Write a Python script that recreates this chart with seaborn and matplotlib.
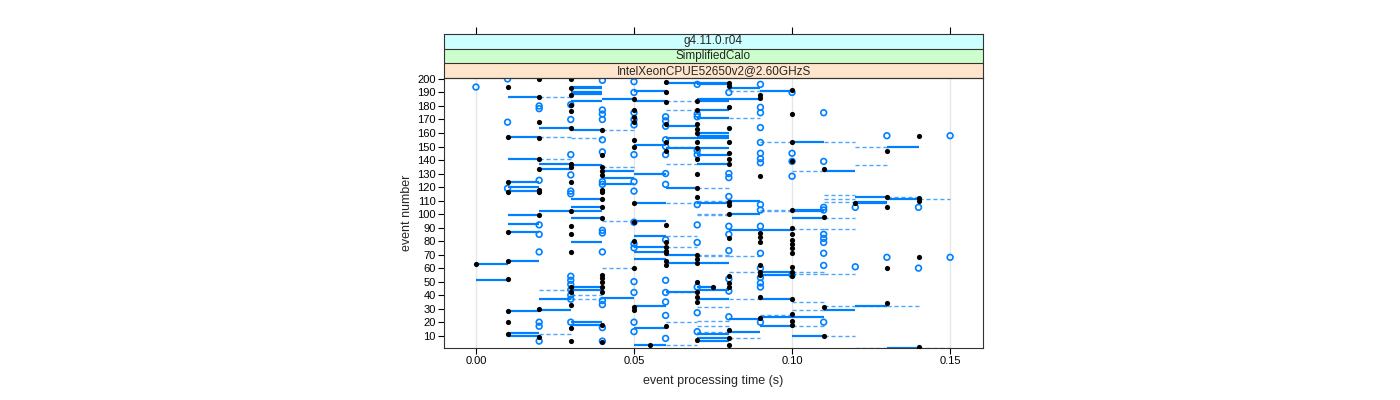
"""
Event processing time per event number, lattice-style panel with strips.
"""

## Import packages
import pandas as pd
import matplotlib
matplotlib.use('Agg')
import matplotlib.pyplot as plt
import seaborn as sns


## Data
# black dots: time column -> event numbers
black_times = [0.00, 0.01, 0.02, 0.03, 0.04, 0.05, 0.055, 0.06, 0.07, 0.075,
               0.08, 0.09, 0.10, 0.11, 0.12, 0.13, 0.14]
black_events = [
    [63],
    [194, 157, 124, 116, 87, 65, 52, 28, 20, 11],
    [200, 187, 168, 156, 141, 133, 118, 116, 99, 30, 9],
    [200, 193, 188, 181, 176, 164, 137, 135, 124, 102, 91, 85, 72, 46, 42, 33, 16, 6],
    [162, 144, 135, 132, 129, 118, 116, 111, 105, 97, 55, 53, 50, 46, 42, 18, 5],
    [185, 177, 172, 168, 155, 150, 108, 94, 80, 60, 31, 29],
    [3],
    [198, 190, 183, 167, 153, 147, 92, 79, 76, 73, 71, 65, 62, 17],
    [184, 177, 167, 163, 160, 153, 149, 141, 130, 119, 113, 70, 67, 64, 50, 42, 39, 35, 7],
    [46],
    [197, 195, 179, 164, 153, 145, 141, 137, 109, 107, 100, 82, 54, 49, 46, 14, 8, 3],
    [188, 186, 128, 86, 83, 79, 62, 57, 55, 39, 23],
    [192, 174, 153, 139, 103, 90, 85, 81, 78, 75, 71, 61, 57, 54, 37, 26, 21, 18],
    [133, 98, 31, 10],
    [108],
    [147, 113, 105, 60, 34],
    [158, 112, 110, 68, 2],
]

# open blue circles: time column -> event numbers
blue_times = [0.00, 0.01, 0.02, 0.03, 0.04, 0.05, 0.06, 0.07, 0.08, 0.09,
              0.10, 0.11, 0.12, 0.13, 0.14, 0.15]
blue_events = [
    [194],
    [200, 168, 119],
    [180, 178, 125, 92, 85, 72, 20, 17, 6],
    [181, 170, 144, 129, 117, 115, 54, 51, 48, 44, 40, 37, 20],
    [199, 177, 174, 170, 155, 146, 124, 122, 88, 86, 72, 36, 33, 16, 6],
    [198, 190, 175, 170, 166, 144, 124, 117, 94, 78, 75, 50, 42, 20, 13],
    [172, 169, 165, 155, 150, 144, 130, 122, 81, 51, 42, 35, 25, 8],
    [196, 174, 172, 147, 144, 107, 92, 79, 46, 27, 13],
    [190, 130, 127, 113, 91, 85, 73, 52, 43, 24],
    [196, 179, 175, 164, 153, 145, 141, 138, 107, 103, 91, 71, 60, 53, 49, 46, 20],
    [190, 145, 139, 128, 55],
    [175, 139, 105, 103, 85, 82, 79, 71, 62, 20],
    [105, 61],
    [158, 68],
    [105, 60],
    [158, 68],
]

# solid segments: (start, end) -> event numbers
solid_spans = [(0.00, 0.01), (0.01, 0.02), (0.02, 0.03), (0.03, 0.04), (0.04, 0.05),
               (0.05, 0.06), (0.06, 0.07), (0.07, 0.075), (0.07, 0.08), (0.08, 0.09),
               (0.09, 0.10), (0.10, 0.11), (0.11, 0.12), (0.12, 0.13), (0.13, 0.14)]
solid_events = [
    [63, 51],
    [187, 157, 141, 124, 120, 117, 99, 93, 87, 65, 28, 12, 10],
    [164, 137, 133, 102, 37, 29],
    [194, 193, 190, 189, 184, 162, 136, 111, 105, 102, 97, 79, 46, 44, 20, 18],
    [185, 132, 127, 122, 38],
    [191, 184, 151, 130, 108, 95, 84, 76, 72, 67, 32, 16, 3],
    [197, 165, 156, 149, 119, 70, 64, 42],
    [46],
    [197, 196, 185, 184, 177, 171, 160, 158, 156, 149, 144, 137, 108, 64, 44, 37, 11, 8, 6],
    [193, 185, 110, 100, 88, 22, 13],
    [191, 88, 57, 55, 37, 24, 17],
    [153, 103, 102, 97, 24, 10],
    [132, 29],
    [113, 109, 108, 32],
    [150, 111, 1],
]

# dashed segments: (start, end) -> event numbers
dashed_spans = [(0.02, 0.03), (0.03, 0.04), (0.04, 0.05), (0.06, 0.07), (0.07, 0.08),
                (0.08, 0.09), (0.09, 0.10), (0.10, 0.11), (0.11, 0.12), (0.12, 0.13),
                (0.13, 0.14), (0.14, 0.15)]
dashed_events = [
    [187, 157, 141, 44, 11],
    [156, 40, 37],
    [162, 135, 95, 60],
    [184, 177, 150, 137, 108, 84, 76, 42, 20, 3],
    [119, 110, 100, 99, 70, 69, 31, 21, 17, 13],
    [191, 171, 69, 57, 37, 8],
    [153, 103, 102, 25],
    [132, 89, 57, 56, 35, 29, 17],
    [153, 114, 111, 109, 97, 89, 56, 32, 10],
    [150, 136, 32, 1],
    [113, 32, 1],
    [111, 1],
]

strip_labels = ['g4.11.0.r04', 'SimplifiedCalo', 'IntelXeonCPUE52650v2@2.60GHzS']
strip_colors = ['#ccffff', '#ccffcc', '#ffe5cc']


## Build tables
def long_table(keys, groups):
    rows = [(k, ev) for k, evs in zip(keys, groups) for ev in evs]
    return pd.DataFrame(rows, columns=['key', 'event'])

black = long_table(black_times, black_events).rename(columns={'key': 'time'})
blue = long_table(blue_times, blue_events).rename(columns={'key': 'time'})
solid = long_table(solid_spans, solid_events)
dashed = long_table(dashed_spans, dashed_events)


## Figure
sns.set_theme(style='white')
plt.rcParams['font.family'] = ['Liberation Sans', 'DejaVu Sans']

lcol = '#0080ff'
fig = plt.figure(figsize=(14, 4), dpi=100)
ax = fig.add_axes([444/1400, 1 - 348/400, 539/1400, 270/400])

# light vertical reference lines
for t in [0.0, 0.05, 0.10, 0.15]:
    ax.axvline(t, color='#e6e6e6', lw=1, zorder=0)

ax.hlines(dashed['event'], [s[0] for s in dashed['key']], [s[1] for s in dashed['key']],
          color='#4da6ff', lw=1, linestyles=(0, (3, 2)), zorder=1)
ax.hlines(solid['event'], [s[0] for s in solid['key']], [s[1] for s in solid['key']],
          color=lcol, lw=1.6, zorder=2)

sns.scatterplot(data=blue, x='time', y='event', ax=ax, marker='o', s=17,
                facecolor='none', edgecolor=lcol, linewidth=1.2, zorder=3)
sns.scatterplot(data=black, x='time', y='event', ax=ax, marker='o', s=14,
                color='black', edgecolor='black', linewidth=0, zorder=4)

ax.set_xlim(-0.0101, 0.1604)
ax.set_ylim(0.9, 200.7)
ax.set_xticks([0.0, 0.05, 0.10, 0.15])
ax.set_xticklabels(['0.00', '0.05', '0.10', '0.15'])
ax.set_yticks(range(10, 201, 10))
ax.tick_params(axis='both', direction='out', length=4, width=0.8, labelsize=8,
               colors='black', pad=2, left=True, bottom=True)
ax.set_xlabel('event processing time (s)', fontsize=9, labelpad=6)
ax.set_ylabel('event number', fontsize=9, labelpad=3)
for sp in ax.spines.values():
    sp.set_color('#333333')
    sp.set_linewidth(0.8)

## Strips above the panel
sax = fig.add_axes([444/1400, 1 - 78/400, 539/1400, 44/400])
sax.set_xlim(ax.get_xlim())
sax.set_ylim(0, 3)
xmid = sum(ax.get_xlim()) / 2
for i, (lab, col) in enumerate(zip(strip_labels, strip_colors)):
    y0 = 2 - i
    sax.axhspan(y0, y0 + 1, color=col, zorder=0)
    sax.axhline(y0, color='#333333', lw=0.8)
    sax.text(xmid, y0 + 0.5, lab, ha='center', va='center', fontsize=8.5)
sax.set_yticks([])
sax.set_xticks([0.0, 0.05, 0.10, 0.15])
sax.tick_params(axis='x', bottom=False, labelbottom=False, top=True, labeltop=False,
                direction='out', length=5, width=0.8, colors='black')
for sp in sax.spines.values():
    sp.set_color('#333333')
    sp.set_linewidth(0.8)

plt.savefig('out.png', dpi=100)
